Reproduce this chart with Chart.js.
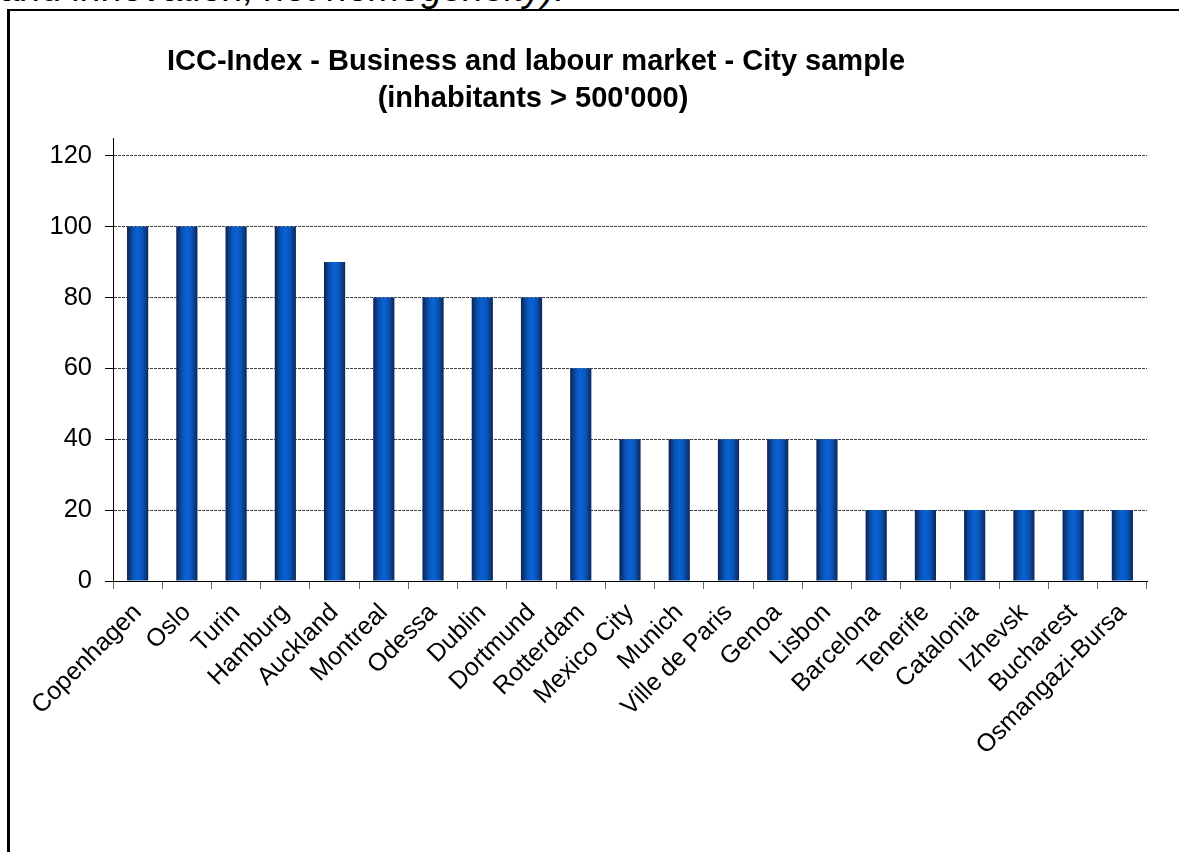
<!DOCTYPE html>
<html>
<head>
<meta charset="utf-8">
<script src="https://cdn.jsdelivr.net/npm/chart.js@4/dist/chart.umd.min.js"></script>
<style>
  html, body { margin: 0; padding: 0; background: #fff; overflow: hidden; }
  #page { position: relative; width: 1179px; height: 852px; }
  #intro {
    position: absolute; left: 0; top: -30px; white-space: nowrap;
    font: italic 37.5px "Liberation Sans", Arial, sans-serif; line-height: 1; color: #000;
  }
  #frame {
    position: absolute; left: 7px; top: 9px; width: 1250px; height: 900px;
    border-left: 3px solid #000; border-top: 2px solid #000;
  }
  #chartCanvas { position: absolute; left: 0; top: 0; }
</style>
</head>
<body>
<div id="page">
  <div id="intro">and innovation, not homogeneity).</div>
  <div id="frame"></div>
  <canvas id="chartCanvas" width="1179" height="852"></canvas>
</div>
<script>
const titleLines = ['ICC-Index - Business and labour market - City sample', "(inhabitants > 500'000)"];

const cities = ['Copenhagen', 'Oslo', 'Turin', 'Hamburg', 'Auckland', 'Montreal', 'Odessa', 'Dublin',
    'Dortmund', 'Rotterdam', 'Mexico City', 'Munich', 'Ville de Paris', 'Genoa', 'Lisbon',
    'Barcelona', 'Tenerife', 'Catalonia', 'Izhevsk', 'Bucharest', 'Osmangazi-Bursa'];
const scores = [100, 100, 100, 100, 90, 80, 80, 80, 80, 60, 40, 40, 40, 40, 40, 20, 20, 20, 20, 20, 20];

const yTicks = [0, 20, 40, 60, 80, 100, 120];
const yMax = 125;   // axis line runs a little above the last tick

const BAR_SHARE = 0.43;

// cylinder look: dark edges, bright blue in the middle
function barGradient(ctx) {
    const chart = ctx.chart;
    const xScale = chart.scales.x;
    if (!chart.chartArea || !xScale) return '#0a5cc8';
    const cx = xScale.getPixelForValue(ctx.dataIndex);
    const half = chart.chartArea.width / cities.length * BAR_SHARE / 2;
    const g = chart.ctx.createLinearGradient(cx - half, 0, cx + half, 0);
    g.addColorStop(0, '#0b2350');
    g.addColorStop(0.3, '#0a55b8');
    g.addColorStop(0.5, '#0a62d6');
    g.addColorStop(0.72, '#0a55b8');
    g.addColorStop(1, '#0b2756');
    return g;
}

// title is centred left of the plot, as in the original sheet
const titlePlugin = {
    id: 'sheetTitle',
    afterDraw(chart) {
        const c = chart.ctx;
        c.save();
        c.font = 'bold 29px "Liberation Sans", Arial, sans-serif';
        c.fillStyle = '#000';
        c.textAlign = 'center';
        c.textBaseline = 'alphabetic';
        c.fillText(titleLines[0], 536, 70);
        c.fillText(titleLines[1], 533, 107);
        c.restore();
    }
};

new Chart(document.getElementById('chartCanvas').getContext('2d'), {
    type: 'bar',
    data: {
        labels: cities,
        datasets: [{
            label: 'Business and labour market',
            data: scores,
            backgroundColor: barGradient,
            borderWidth: 0,
            barPercentage: BAR_SHARE,
            categoryPercentage: 1
        }]
    },
    options: {
        responsive: false,
        animation: false,
        layout: { padding: { left: 10, right: 32, top: 138, bottom: 0 } },
        plugins: {
            legend: { display: false },
            title: { display: false },
            tooltip: { enabled: false }
        },
        scales: {
            x: {
                offset: true,
                grid: { drawOnChartArea: false, offset: true, tickLength: 8, tickColor: '#666', lineWidth: 1 },
                border: { color: '#000', width: 1 },
                ticks: {
                    autoSkip: false, maxRotation: 45, minRotation: 45,
                    color: '#000', padding: 9,
                    font: { family: '"Liberation Sans", Arial, sans-serif', size: 25 }
                },
                afterFit(scale) { scale.height = 271; }
            },
            y: {
                min: yTicks[0],
                max: yMax,
                ticks: {
                    color: '#000', padding: 13,
                    font: { family: '"Liberation Sans", Arial, sans-serif', size: 25.5 }
                },
                afterBuildTicks(scale) {
                    scale.ticks = yTicks.map(v => ({ value: v }));
                },
                grid: { color: '#444', tickColor: '#000', tickLength: 8, lineWidth: 1 },
                border: { color: '#000', width: 1, dash: [3, 1] },
                afterFit(scale) { scale.width = 103; }
            }
        }
    },
    plugins: [titlePlugin]
});
</script>
</body>
</html>
